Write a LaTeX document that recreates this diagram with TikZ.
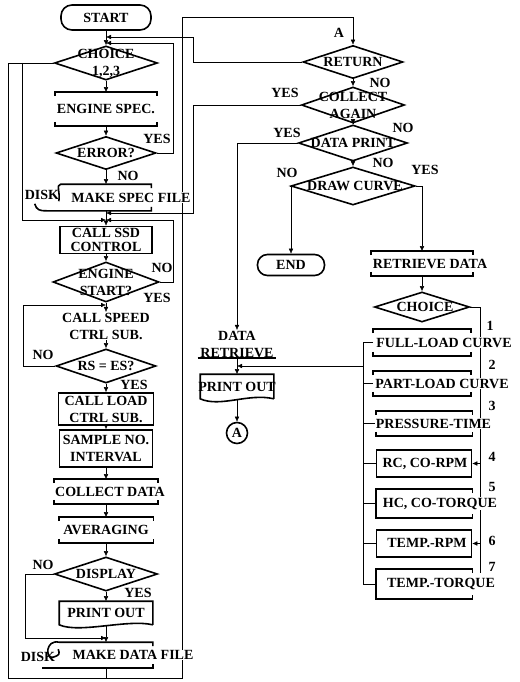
\documentclass[tikz,border=0pt]{standalone}
\usepackage{fontspec}
\setmainfont{Liberation Serif}
\usetikzlibrary{shapes.geometric,arrows.meta,backgrounds}
\newcommand\ctext[2][0pt]{\makebox[0pt]{\hspace*{#1}#2}}
\newcommand\wtext[2][0pt]{\makebox[0pt]{\hspace*{#1}{\setlength\fboxsep{0.6pt}\colorbox{white}{#2}}}}
\newcommand\brk[1]{\draw ([yshift=-4pt]#1.north west) -- (#1.north west) -- (#1.north east) -- ([yshift=-4pt]#1.north east) ([yshift=4pt]#1.south west) -- (#1.south west) -- (#1.south east) -- ([yshift=4pt]#1.south east);}
\newcommand\lbrk[1]{\draw ([yshift=-4pt]#1.north east) -- (#1.north east) -- (#1.north west) -- (#1.south west) -- (#1.south east) -- ([yshift=4pt]#1.south east);}
\newcommand\docshape[1]{\draw (#1.south east) -- (#1.north east) -- (#1.north west) -- (#1.south west) .. controls +(20,9) and +(-25,-6) .. (#1.south east);}
\begin{document}
\begin{tikzpicture}[x=1pt,y=-1pt,line width=1.6pt,
  >={Latex[length=5pt,width=4.5pt]},
  font=\fontsize{14}{17}\selectfont\bfseries,
  every node/.style={inner sep=0pt},
  term/.style={draw,rounded corners=11pt,minimum height=25pt},
  dec/.style={draw,diamond,align=center},
  box/.style={rectangle,align=center},
  fbox/.style={draw,rectangle,align=center},
  lab/.style={inner sep=1pt}]
\useasboundingbox (0,0) rectangle (519,682);
% ---------- left column ----------
\node[term,minimum width=90pt] (start) at (106,17.5) {START};
\node[dec,minimum width=103pt,minimum height=34pt] (choice) at (106,63) {\ctext{CHOICE}\\\ctext{1,2,3}};
\node[box,minimum width=100pt,minimum height=32pt] (espec) at (106,109) {\ctext{ENGINE SPEC.}};
\node[dec,minimum width=100pt,minimum height=33pt] (err) at (106,153) {\ctext{ERROR?}};
\node[box,minimum width=89pt,minimum height=25pt] (msf) at (106,197.5) {\wtext[50pt]{MAKE SPEC FILE}};
\node[lab] (disk1) at (42,195) {DISK};
\node[fbox,minimum width=92pt,minimum height=27pt,font=\fontsize{14}{14}\selectfont\bfseries] (ssd) at (106,240) {\ctext{CALL SSD}\\\ctext{CONTROL}};
\node[dec,minimum width=106pt,minimum height=40pt] (est) at (106,282) {\ctext{ENGINE}\\\ctext{START?}};
\node[box] (speed) at (106,326) {\ctext{CALL SPEED}\\\ctext{CTRL SUB.}};
\node[dec,minimum width=100pt,minimum height=34pt] (rses) at (106,366) {\ctext{RS = ES?}};
\node[fbox,minimum width=95pt,minimum height=32pt] (load) at (106,409) {\ctext{CALL LOAD}\\\ctext{CTRL SUB.}};
\node[fbox,minimum width=93pt,minimum height=37pt] (sample) at (106,448.5) {\ctext{SAMPLE NO.}\\\ctext{INTERVAL}};
\node[box,minimum width=102pt,minimum height=23pt] (coll) at (106,491.5) {\ctext[8pt]{COLLECT DATA}};
\node[box,minimum width=93pt,minimum height=24pt] (avg) at (106,530) {\ctext{AVERAGING}};
\node[dec,minimum width=103pt,minimum height=34pt] (disp) at (106,574) {\ctext{DISPLAY}};
\node[box,minimum width=92pt,minimum height=22pt] (po) at (106,613) {\ctext{PRINT OUT}};
\node[box,minimum width=92pt,minimum height=24pt] (mdf) at (106,655) {\wtext[54pt]{MAKE DATA FILE}};
\node[lab] (disk2) at (38,657) {DISK};
% ---------- right part ----------
\node[dec,minimum width=100pt,minimum height=33pt] (ret) at (353,62) {\ctext{RETURN}};
\node[dec,minimum width=103pt,minimum height=36pt] (ca) at (353,105) {\ctext{COLLECT}\\\ctext{AGAIN}};
\node[dec,minimum width=109pt,minimum height=36pt] (dp) at (353,143) {\ctext{DATA PRINT}};
\node[dec,minimum width=124pt,minimum height=38pt] (dc) at (353,186) {\ctext[4pt]{DRAW CURVE}};
\node[term,minimum width=67pt,minimum height=21pt,rounded corners=10pt] (end) at (291,265) {END};
\node[box,minimum width=100pt,minimum height=23pt] (rd) at (422,263.5) {\ctext[16pt]{RETRIEVE DATA}};
\node[dec,minimum width=95pt,minimum height=30pt] (ch) at (422,307) {\ctext[6pt]{CHOICE}};
\node[box,minimum width=96pt,minimum height=25pt] (b1) at (422,342.5) {\wtext[44pt]{FULL-LOAD CURVE}};
\node[box,minimum width=96pt,minimum height=23pt] (b2) at (422,383.5) {\wtext[40pt]{PART-LOAD CURVE}};
\node[box,minimum width=95pt,minimum height=23pt] (b3) at (424,423.5) {\wtext[19pt]{PRESSURE-TIME}};
\node[fbox,minimum width=95pt,minimum height=27pt] (b4) at (424,463.5) {\ctext[2pt]{RC, CO-RPM}};
\node[box,minimum width=95pt,minimum height=27pt] (b5) at (424,503.5) {\wtext[32pt]{HC, CO-TORQUE}};
\node[fbox,minimum width=95pt,minimum height=27pt] (b6) at (424,543.5) {\ctext[6pt]{TEMP.-RPM}};
\node[box,minimum width=95pt,minimum height=28pt] (b7) at (424,584) {\wtext[34pt]{TEMP.-TORQUE}};
\node[minimum width=77pt,align=center] (dr) at (237,344) {DATA\\RETRIEVE};
\node[box,minimum width=72pt,minimum height=23pt] (po2) at (237,386.5) {\ctext{PRINT OUT}};
\node[draw,circle,minimum size=21pt] (conA) at (237,433) {A};
% ---------- labels ----------
\node[lab] (lA) at (339,33) {A};
\node[lab] (y1) at (157,139) {YES};
\node[lab] (n1) at (128,176) {NO};
\node[lab] (n2) at (162,268) {NO};
\node[lab] (y2) at (157,298) {YES};
\node[lab] (n3) at (43,355) {NO};
\node[lab] (y3) at (134,385) {YES};
\node[lab] (n4) at (43,565) {NO};
\node[lab] (y4) at (138,593) {YES};
\node[lab] (n5) at (380,83) {NO};
\node[lab] (y5) at (285,93) {YES};
\node[lab] (n6) at (403,128) {NO};
\node[lab] (y6) at (287,133) {YES};
\node[lab] (n7) at (383,163) {NO};
\node[lab] (n8) at (287,173) {NO};
\node[lab] (y8) at (425,170) {YES};
\node[lab] (k1) at (490,326) {1};
\node[lab] (k2) at (492,365) {2};
\node[lab] (k3) at (492,406) {3};
\node[lab] (k4) at (492,457) {4};
\node[lab] (k5) at (492,487) {5};
\node[lab] (k6) at (492,541) {6};
\node[lab] (k7) at (492,567) {7};
% ---------- coordinates ----------
\coordinate (jA) at (106,37);
\coordinate (jB) at (106,43);
\coordinate (jC) at (106,213);
\coordinate (jD) at (106,220);
\coordinate (jE) at (106,305);
\coordinate (jF) at (106,638);
\coordinate (jG) at (106,678);
\coordinate (jH) at (237,366);
\coordinate (col) at (363,366);
\coordinate (c2) at (22,63);
\coordinate (rl) at (480,0);
% ---------- box outlines ----------
\brk{espec} \brk{coll} \brk{avg} \brk{rd} \brk{b1} \brk{b2} \brk{b3}
\lbrk{b5} \lbrk{b7}
\docshape{po} \docshape{po2}
\draw ([yshift=-4pt]msf.north east) -- (msf.north east) -- (msf.north west) .. controls +(-5,0) and +(2,-7) .. ([xshift=-2pt,yshift=-17pt]msf.north west);
\draw ([xshift=-26pt,yshift=7pt]msf.south west) .. controls +(2,6) and +(-8,0) .. ([xshift=-14pt]msf.south west) -- (msf.south east) -- ([yshift=4pt]msf.south east);
\draw ([yshift=-4pt]mdf.north east) -- (mdf.north east) -- (mdf.north west) .. controls +(-14,-3) and +(-8,2) .. ([xshift=-6pt,yshift=-15pt]mdf.north west) .. controls +(6,-2) and +(2,5) .. ([xshift=-1pt,yshift=-7pt]mdf.north west);
\draw ([xshift=-17pt]mdf.south west) -- (mdf.south east) -- ([yshift=4pt]mdf.south east);
\draw (dr.south west) -- (dr.south east);
% ---------- connectors ----------
\begin{pgfonlayer}{background}
\fill[white] (0,0) rectangle (519,682);
\draw[->] (start) -- (choice);
\draw[->] (choice) -- (espec);
\draw[->] (espec) -- (err);
\draw[->] (err) -- (msf);
\draw[->] (msf) -- (ssd);
\draw[->] (ssd) -- (est);
\draw[->] (est) -- (speed);
\draw[->] (speed) -- (rses);
\draw[->] (rses) -- (load);
\draw[->] (load) -- (sample);
\draw[->] (sample) -- (coll);
\draw[->] (coll) -- (avg);
\draw[->] (avg) -- (disp);
\draw[->] (disp) -- (po);
\draw[->] (po) -- (mdf);
\draw (mdf) -- (jG);
\draw[->] (err.east) -- (173,153) |- (jB);
\draw[->] (ret.west) -- (193,62) |- (jA);
\draw[->] (choice.west) -- (8,63) -- (8,678) -- (182,678) -- (182,17) -| (ret.north);
\draw[->] (c2) |- (jD);
\draw[->] (ca.west) -- (193,105) |- (jC);
\draw[->] (est.east) -- (173,282) |- (jD);
\draw[->] (rses.west) -- (23,366) |- (jE);
\draw[->] (disp.west) -- (25,574) |- (jF);
\draw[->] (ret) -- (ca);
\draw[->] (ca) -- (dp);
\draw[->] (dp) -- (dc);
\draw[->] (dp.west) -| (dr.north);
\draw[->] (dc.west) -| (end.north);
\draw[->] (dc.east) -| (rd.north);
\draw[->] (rd) -- (ch);
\draw (ch.east) -| (480,573);
\draw[->] (b4.east -| rl) -- (b4.east);
\draw[->] (b6.east -| rl) -- (b6.east);
\draw (b1.west) -- (b1.west -| col) -- (b7.west -| col) -- (b7.west);
\foreach \b in {b2,b3,b4,b5,b6} \draw (\b.west) -- (\b.west -| col);
\draw[->] (col) -- (jH);
\draw[->] (dr.south) -- (po2);
\draw[->] (po2) -- (conA);
\end{pgfonlayer}
\end{tikzpicture}
\end{document}
